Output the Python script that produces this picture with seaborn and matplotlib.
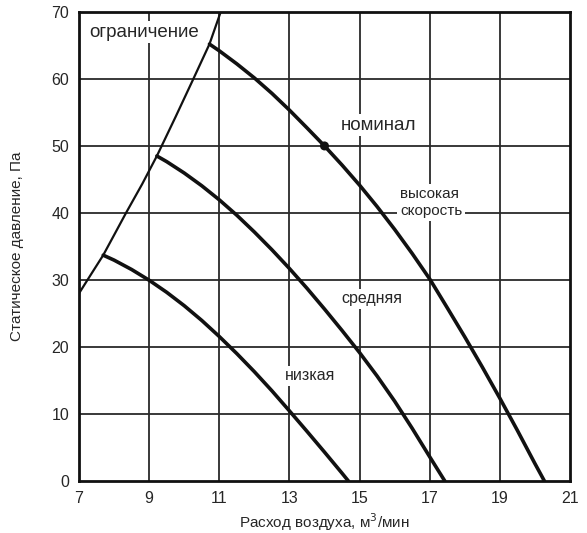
import numpy as np
import pandas as pd
import seaborn as sns
import matplotlib.pyplot as plt

# кривые вентилятора (расход, м3/мин ; давление, Па)
alta_x = [10.72, 11.0, 11.5, 12.0, 12.5, 13.0, 13.5, 14.0, 14.5, 15.0, 15.5, 16.0, 16.5, 17.0,
          17.5, 18.0, 18.5, 19.0, 19.5, 20.0, 20.27]
alta_y = [65.2, 64.2, 62.25, 60.15, 57.85, 55.35, 52.7, 50.0, 47.15, 44.15, 40.95, 37.55, 33.95, 30.15,
          25.85, 21.5, 17.0, 12.35, 7.55, 2.6, 0]

media_x = [9.22, 9.5, 10.0, 10.5, 11.0, 11.5, 12.0, 12.5, 13.0, 13.5, 14.0, 14.5, 15.0,
           15.5, 16.0, 16.5, 17.0, 17.43]
media_y = [48.5, 47.66, 45.96, 44.06, 41.96, 39.66, 37.16, 34.51, 31.71, 28.76, 25.66, 22.46, 19.16,
           15.66, 11.91, 7.86, 3.61, 0]

baja_x = [7.69, 8.0, 8.5, 9.0, 9.5, 10.0, 10.5, 11.0, 11.5, 12.0, 12.5, 13.0, 13.5, 14.0, 14.5, 14.68]
baja_y = [33.7, 32.96, 31.56, 29.96, 28.16, 26.16, 23.96, 21.56, 19.01, 16.31, 13.46, 10.46,
          7.41, 4.31, 1.16, 0]

limite_x = [7.0, 7.35, 7.69, 8.0, 8.34, 8.8, 9.22, 9.75, 10.26, 10.72, 11.04]
limite_y = [28.0, 30.9, 33.7, 36.7, 40.0, 44.3, 48.5, 54.3, 60.0, 65.2, 70.0]

nominal_x = [14.0]
nominal_y = [50]

xticks = [7, 9, 11, 13, 15, 17, 19, 21]
yticks = [0, 10, 20, 30, 40, 50, 60, 70]

sns.set_style("white")
plt.rcParams['font.family'] = ['Liberation Sans', 'DejaVu Sans']

fig = plt.figure(figsize=(5.87, 5.33), dpi=100)
ax = fig.add_axes([0.1346, 0.0976, 0.8364, 0.88])

# сетка
for x in xticks[1:-1]:
    ax.axvline(x, color='#2a2a2a', lw=1.3, zorder=1)
for y in yticks[1:-1]:
    ax.axhline(y, color='#2a2a2a', lw=1.3, zorder=1)

for xs, ys in [(alta_x, alta_y), (media_x, media_y), (baja_x, baja_y)]:
    sns.lineplot(x=xs, y=ys, ax=ax, color='#111111', lw=2.6, sort=False, zorder=3)
sns.lineplot(x=limite_x, y=limite_y, ax=ax, color='#111111', lw=1.6, sort=False, zorder=3)
sns.scatterplot(x=nominal_x, y=nominal_y, ax=ax, color='#111111', s=42, zorder=4, edgecolor='none')

caja = dict(facecolor='white', edgecolor='none', pad=2)
ax.text(7.3, 67, 'ограничение', fontsize=13.5, va='center', ha='left', bbox=caja, zorder=5)
ax.text(15.55, 53.1, 'номинал', fontsize=13.5, va='center', ha='center', bbox=caja, zorder=5)
ax.text(16.15, 41.6, 'высокая\nскорость', fontsize=11, va='center', ha='left',
        linespacing=1.3, bbox=caja, zorder=5)
ax.text(15.35, 27.2, 'средняя', fontsize=11.5, va='center', ha='center', bbox=caja, zorder=5)
ax.text(13.58, 15.7, 'низкая', fontsize=11.5, va='center', ha='center', bbox=caja, zorder=5)

ax.set_xlim(7, 21)
ax.set_ylim(0, 70)
ax.set_xticks(xticks)
ax.set_yticks(yticks)
ax.tick_params(axis='both', length=0, labelsize=11.5, pad=7)
for s in ax.spines.values():
    s.set_color('#111111')
    s.set_linewidth(2)

ax.set_xlabel('Расход воздуха, м$^3$/мин', fontsize=11, labelpad=4)
ax.set_ylabel('Статическое давление, Па', fontsize=11, labelpad=20)

fig.savefig('out.png', dpi=100)
